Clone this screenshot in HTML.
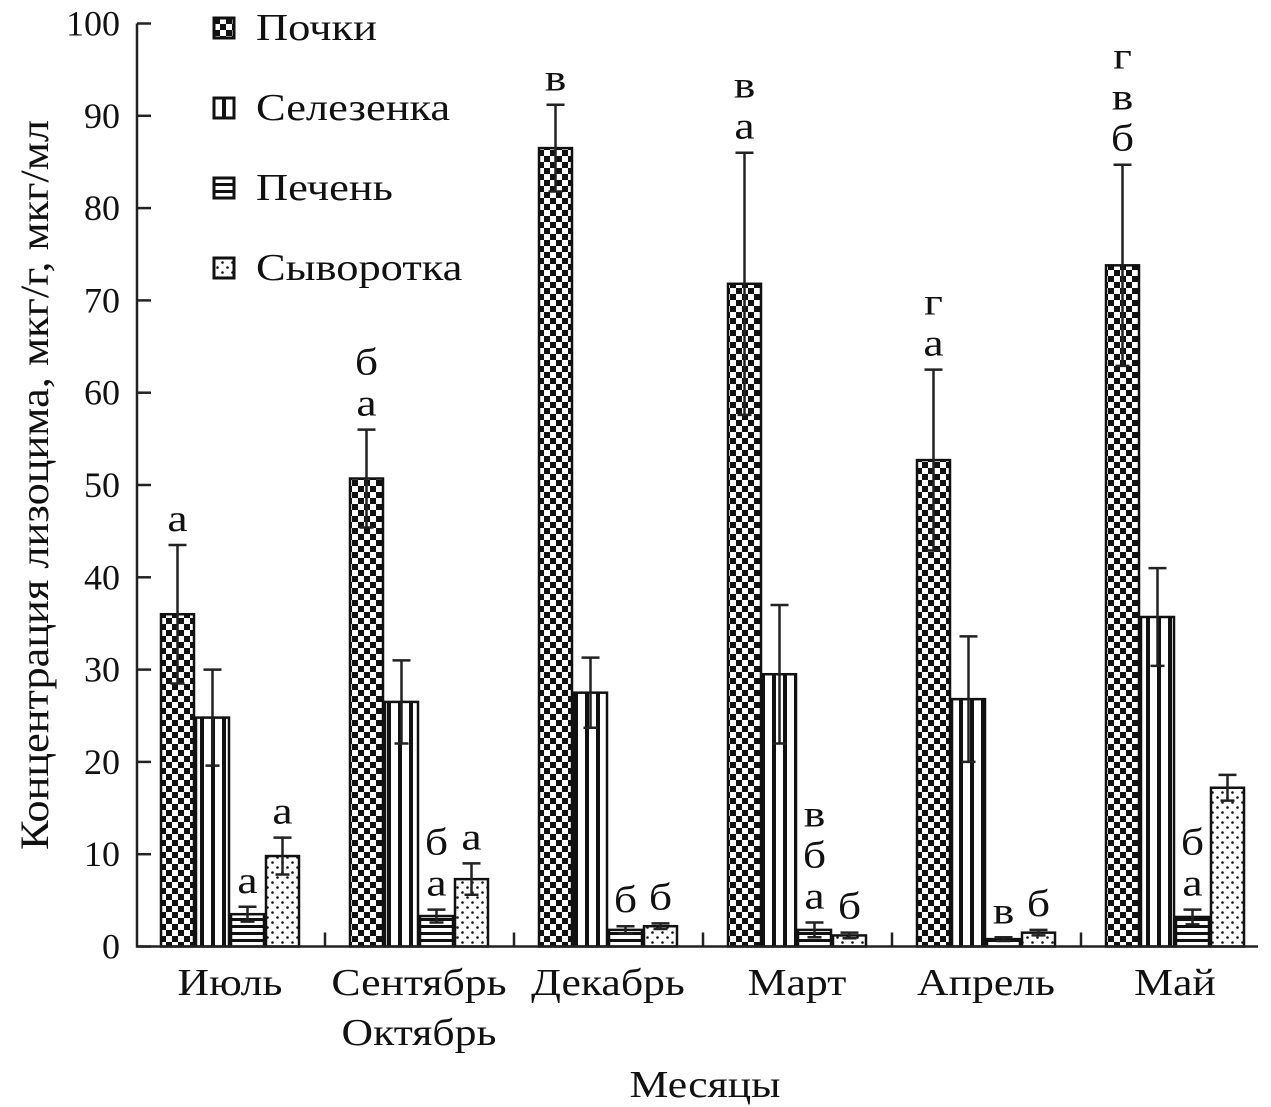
<!DOCTYPE html>
<html><head><meta charset="utf-8">
<style>
html,body{margin:0;padding:0;background:#fff;}
svg{display:block;font-family:"Liberation Serif","DejaVu Serif",serif;}
</style></head>
<body>
<svg id="chart" width="1271" height="1107" viewBox="0 0 1271 1107" xmlns="http://www.w3.org/2000/svg">
<defs>
<pattern id="pCheck" patternUnits="userSpaceOnUse" width="12" height="12" x="160" y="0">
<rect width="12" height="12" fill="#fff"/>
<rect x="0" y="0" width="6" height="6" fill="#111"/>
<rect x="6" y="6" width="6" height="6" fill="#111"/>
</pattern>
<pattern id="pVert" patternUnits="userSpaceOnUse" width="11" height="10" x="2">
<rect width="11" height="10" fill="#fff"/>
<rect x="0" y="0" width="4" height="10" fill="#111"/>
</pattern>
<pattern id="pHoriz" patternUnits="userSpaceOnUse" width="10" height="7" y="1">
<rect width="10" height="7" fill="#fff"/>
<rect x="0" y="0" width="10" height="3" fill="#111"/>
</pattern>
<pattern id="pDots" patternUnits="userSpaceOnUse" width="10" height="10">
<rect width="10" height="10" fill="#fff"/>
<circle cx="2.5" cy="2.5" r="1.3" fill="#111"/>
<circle cx="7.5" cy="7.5" r="1.3" fill="#111"/>
</pattern>
</defs>
<g id="plot"></g>
</svg>
<script>
const categories = ["Июль","Сентябрь Октябрь","Декабрь","Март","Апрель","Май"];
const seriesNames = ["Почки","Селезенка","Печень","Сыворотка"];
const kidney = [36, 50.7, 86.5, 71.8, 52.7, 73.8];
const kidneyErr = [7.5, 5.3, 4.7, 14.2, 9.8, 10.9];
const spleen = [24.8, 26.5, 27.5, 29.5, 26.8, 35.7];
const spleenErr = [5.2, 4.5, 3.8, 7.5, 6.8, 5.3];
const liver = [3.5, 3.3, 1.8, 1.8, 0.8, 3.2];
const liverErr = [0.8, 0.7, 0.4, 0.8, 0.2, 0.8];
const serum = [9.8, 7.3, 2.2, 1.2, 1.5, 17.2];
const serumErr = [2.0, 1.7, 0.3, 0.3, 0.3, 1.4];
const letters = [
 [["а"],[],["а"],["а"]],
 [["б","а"],[],["б","а"],["а"]],
 [["в"],[],["б"],["б"]],
 [["в","а"],[],["в","б","а"],["б"]],
 [["г","а"],[],["в"],["б"]],
 [["г","в","б"],[],["б","а"],[]]
];
const yTicks = [0,10,20,30,40,50,60,70,80,90,100];

const NS="http://www.w3.org/2000/svg";
const g=document.getElementById('plot');
const X0=137, Y0=946.5, PXU=9.23;
const yScale=v=>Y0-v*PXU;
const groupStart=i=>160+i*189;
const BW=35;
const xBar=(i,s)=>groupStart(i)+s*BW;
function mk(tag,attrs,parent){const e=document.createElementNS(NS,tag);for(const k in attrs)e.setAttribute(k,attrs[k]);(parent||g).appendChild(e);return e;}
function stretch(t,f){const w=t.getComputedTextLength();t.setAttribute('textLength',w*f);t.setAttribute('lengthAdjust','spacingAndGlyphs');}

const values=[kidney,spleen,liver,serum];
const errs=[kidneyErr,spleenErr,liverErr,serumErr];
const fills=["url(#pCheck)","url(#pVert)","url(#pHoriz)","url(#pDots)"];
const keys=["kidney","spleen","liver","serum"];

for(let i=0;i<categories.length;i++){
 for(let s=0;s<4;s++){
  const v=values[s][i], e=errs[s][i];
  const x=xBar(i,s), y=yScale(v);
  const r=mk('rect',{x:x+1,y:y,width:BW-2,height:Y0-y,fill:fills[s],stroke:'#111','stroke-width':2.5});
  
  
  const cx=x+BW/2, yt=yScale(v+e), yb=yScale(Math.max(v-e,0));
  const eb=mk('path',{d:`M${cx},${yb}L${cx},${yt}M${cx-9},${yt}L${cx+9},${yt}M${cx-7},${yb}L${cx+7},${yb}`,stroke:'#222','stroke-width':2.5,fill:'none'});
  
  
  const L=letters[i][s];
  for(let k=0;k<L.length;k++){
   const t=mk('text',{x:cx,y:yt-14-(L.length-1-k)*41,'font-size':38,'text-anchor':'middle',fill:'#111'});
   t.textContent=L[k];
   
   
   stretch(t,1.2);
  }
 }
}

const ax=mk('path',{d:`M${X0},${yScale(100)}L${X0},${Y0}L1258,${Y0}`,stroke:'#222','stroke-width':2.5,fill:'none'});


for(const t of yTicks){
 const y=yScale(t);
 const tk=mk('line',{x1:X0,x2:X0+14,y1:y,y2:y,stroke:'#222','stroke-width':2.5});
 
 
 const lb=mk('text',{x:120,y:y+12,'font-size':36,'text-anchor':'end',fill:'#111'});
 lb.textContent=t;
 
 
}
for(let i=1;i<=5;i++){
 const x=groupStart(i)-24;
 const tk=mk('line',{x1:x,x2:x,y1:Y0,y2:Y0-14,stroke:'#222','stroke-width':2.5});
 
 
}
for(let i=0;i<categories.length;i++){
 const parts=categories[i].split(' ');
 const cx=groupStart(i)+2*BW;
 for(let k=0;k<parts.length;k++){
  const lb=mk('text',{x:cx,y:995+k*50,'font-size':38,'text-anchor':'middle',fill:'#111'});
  lb.textContent=parts[k];
  
  
  stretch(lb,1.15);
 }
}
const xt=mk('text',{x:705,y:1097,'font-size':38,'text-anchor':'middle',fill:'#111'});
xt.textContent="Месяцы";


stretch(xt,1.15);
const yt=mk('text',{x:0,y:0,'font-size':40,'text-anchor':'middle',fill:'#111',transform:'translate(48,485) rotate(-90)'});
yt.textContent="Концентрация лизоцима, мкг/г, мкг/мл";


yt.setAttribute('textLength',730);
yt.setAttribute('lengthAdjust','spacingAndGlyphs');

for(let s=0;s<4;s++){
 const y=18+s*80;
 const sw=mk('rect',{x:214,y:y,width:20,height:20,fill:fills[s],stroke:'#111','stroke-width':3});
 
 
 const t=mk('text',{x:256,y:y+22,'font-size':38,fill:'#111'});
 t.textContent=seriesNames[s];
 
 
 stretch(t,1.17);
}
</script>
</body></html>
